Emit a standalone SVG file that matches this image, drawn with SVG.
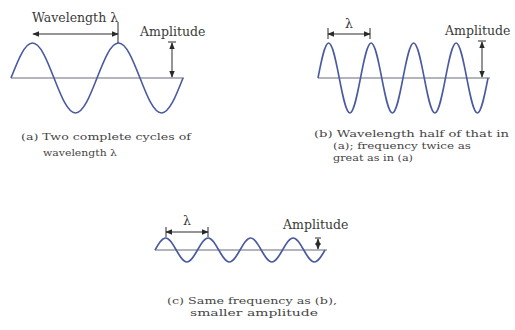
<svg xmlns="http://www.w3.org/2000/svg" width="515" height="330" viewBox="0 0 515 330">
<style>
text{font-family:"DejaVu Serif","Liberation Serif",serif;fill:#3a3a3a}
.lbl{font-size:12.5px}
.cap{font-size:10px;fill:#454545}
.wave{fill:none;stroke:#4a5aa0;stroke-width:1.6}
.base{fill:none;stroke:#9a9ca6;stroke-width:1.6}
.dim{fill:none;stroke:#2a2a2a;stroke-width:1}
.arr{fill:none;stroke:#2a2a2a;stroke-width:1;marker-start:url(#ah);marker-end:url(#ah)}
</style>
<defs>
<marker id="ah" viewBox="0 0 10 10" refX="9" refY="5" markerWidth="7" markerHeight="7" markerUnits="userSpaceOnUse" orient="auto-start-reverse">
<path d="M0 1 L10 5 L0 9 Z" fill="#2a2a2a"/>
</marker>
</defs>
<g id="panel-a">
<path class="base" d="M11 78 H184"/>
<path class="wave" d="M11 78 c7.01 -17.930 13.72 -35 21.5 -35 s14.49 17.07 21.5 35 s13.72 35 21.5 35 s14.49 -17.07 21.5 -35 s13.72 -35 21.5 -35 s14.49 17.07 21.5 35 s13.72 35 21.5 35 s14.49 -17.07 21.5 -35"/>
<path class="dim" d="M118 22 V43"/>
<path class="arr" d="M33 34 H118"/>
<text class="lbl" x="32" y="22">Wavelength λ</text>
<text class="lbl" x="140" y="36">Amplitude</text>
<path class="dim" d="M168 42 H176"/>
<path class="arr" d="M172 43 V77"/>
<text class="cap" x="21" y="140" textLength="170" lengthAdjust="spacingAndGlyphs">(a) Two complete cycles of</text>
<text class="cap" x="43" y="156" textLength="74" lengthAdjust="spacingAndGlyphs">wavelength λ</text>
</g>
<g id="panel-b">
<path class="base" d="M318 78 H490"/>
<path class="wave" d="M318 78 c3.46 -17.93 6.78 -35 10.625 -35 s7.165 17.07 10.625 35 s6.78 35 10.625 35 s7.165 -17.07 10.625 -35 s6.78 -35 10.625 -35 s7.165 17.07 10.625 35 s6.78 35 10.625 35 s7.165 -17.07 10.625 -35 s6.78 -35 10.625 -35 s7.165 17.07 10.625 35 s6.78 35 10.625 35 s7.165 -17.07 10.625 -35 s6.78 -35 10.625 -35 s7.165 17.07 10.625 35 s6.78 35 10.625 35 s7.165 -17.07 10.625 -35"/>
<path class="dim" d="M328 28 V39 M370 28 V39"/>
<path class="arr" d="M328 34 H370"/>
<text class="lbl" x="349" y="28" text-anchor="middle">λ</text>
<text class="lbl" x="445" y="35">Amplitude</text>
<path class="dim" d="M478 41 H486"/>
<path class="arr" d="M482 42 V77"/>
<text class="cap" x="314" y="137" textLength="195" lengthAdjust="spacingAndGlyphs">(b) Wavelength half of that in</text>
<text class="cap" x="333" y="149" textLength="138" lengthAdjust="spacingAndGlyphs">(a); frequency twice as</text>
<text class="cap" x="333" y="161" textLength="80" lengthAdjust="spacingAndGlyphs">great as in (a)</text>
</g>
<g id="panel-c">
<path class="base" d="M155 250 H327"/>
<path class="wave" d="M155 250 c3.46 -6.15 6.78 -12 10.625 -12 s7.165 5.85 10.625 12 s6.78 12 10.625 12 s7.165 -5.85 10.625 -12 s6.78 -12 10.625 -12 s7.165 5.85 10.625 12 s6.78 12 10.625 12 s7.165 -5.85 10.625 -12 s6.78 -12 10.625 -12 s7.165 5.85 10.625 12 s6.78 12 10.625 12 s7.165 -5.85 10.625 -12 s6.78 -12 10.625 -12 s7.165 5.85 10.625 12 s6.78 12 10.625 12 s7.165 -5.85 10.625 -12"/>
<path class="dim" d="M166 227 V237 M208 227 V237"/>
<path class="arr" d="M166 232 H208"/>
<text class="lbl" x="187" y="225" text-anchor="middle">λ</text>
<text class="lbl" x="283" y="229">Amplitude</text>
<path class="dim" d="M315 238 H321"/>
<path class="arr" d="M318 239 V249"/>
<text class="cap" x="167" y="304" textLength="170" lengthAdjust="spacingAndGlyphs">(c) Same frequency as (b),</text>
<text class="cap" x="190" y="316" textLength="128" lengthAdjust="spacingAndGlyphs">smaller amplitude</text>
</g>
</svg>
